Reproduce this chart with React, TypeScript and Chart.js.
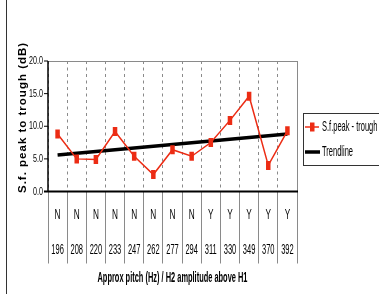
import React, { useEffect, useRef } from "react";
import { Chart, registerables } from "chart.js";

Chart.register(...registerables);

// ---- data ----
const pitchHz = ["196", "208", "220", "233", "247", "262", "277", "294", "311", "330", "349", "370", "392"];
const h2AboveH1 = ["N", "N", "N", "N", "N", "N", "N", "N", "Y", "Y", "Y", "Y", "Y"];
const peakTrough = [8.8, 5.0, 4.9, 9.2, 5.4, 2.6, 6.4, 5.4, 7.5, 10.9, 14.6, 4.0, 9.3];
const trendline = [5.6, null, null, null, null, null, null, null, null, null, null, null, 8.8];
const seriesNames = ["S.f.peak - trough", "Trendline"];
const yTitle = "S.f. peak to trough (dB)";
const xTitle = "Approx pitch (Hz) / H2 amplitude above H1";

const RED = "#ec2c14";
const FONT = '"Liberation Sans", Arial, sans-serif';

function txt(ctx: CanvasRenderingContext2D, s: string, x: number, y: number, font: string, sx: number, align: CanvasTextAlign) {
  ctx.save();
  ctx.font = font;
  ctx.translate(x, y);
  ctx.scale(sx, 1);
  ctx.textAlign = align;
  ctx.textBaseline = "middle";
  ctx.fillStyle = "#000";
  ctx.fillText(s, 0, 0);
  ctx.restore();
}

const decor = {
  id: "decor",
  afterDraw(chart: any) {
    const ctx: CanvasRenderingContext2D = chart.ctx;
    const { left, right, top, bottom } = chart.chartArea;
    const xs = chart.scales.x;
    const ys = chart.scales.y;
    ctx.save();
    // page left line
    ctx.strokeStyle = "#333";
    ctx.lineWidth = 1;
    ctx.beginPath();
    ctx.moveTo(6.5, 0);
    ctx.lineTo(6.5, 294);
    ctx.stroke();
    // top & right border of plot
    ctx.strokeStyle = "#8a8a8a";
    ctx.beginPath();
    ctx.moveTo(left, top + 0.5);
    ctx.lineTo(right + 0.5, top + 0.5);
    ctx.lineTo(right + 0.5, bottom);
    ctx.stroke();
    // y axis
    ctx.strokeStyle = "#000";
    ctx.lineWidth = 1.5;
    ctx.beginPath();
    ctx.moveTo(left, top);
    ctx.lineTo(left, bottom);
    ctx.stroke();
    // y ticks and labels
    ys.ticks.forEach((t: any) => {
      const py = ys.getPixelForValue(t.value);
      ctx.strokeStyle = "#000";
      ctx.lineWidth = 1;
      ctx.beginPath();
      ctx.moveTo(left - 4, py);
      ctx.lineTo(left, py);
      ctx.stroke();
      txt(ctx, Number(t.value).toFixed(1), left - 5, py, `11px ${FONT}`, 0.65, "right");
    });
    // x axis
    ctx.strokeStyle = "#000";
    ctx.lineWidth = 2;
    ctx.beginPath();
    ctx.moveTo(left - 4, bottom);
    ctx.lineTo(right + 1, bottom);
    ctx.stroke();
    // x category labels
    pitchHz.forEach((p, i) => {
      const px = xs.getPixelForValue(i);
      txt(ctx, h2AboveH1[i], px, 215, `15px ${FONT}`, 0.55, "center");
      txt(ctx, p, px, 250, `15px ${FONT}`, 0.5, "center");
    });
    // x title
    ctx.font = `bold 14px ${FONT}`;
    const w = ctx.measureText(xTitle).width;
    txt(ctx, xTitle, (left + right) / 2, 278, `bold 14px ${FONT}`, 150 / w, "center");
    // y title
    ctx.save();
    ctx.translate(22.5, 193);
    ctx.rotate(-Math.PI / 2);
    ctx.font = `bold 11.5px ${FONT}`;
    (ctx as any).letterSpacing = "1px";
    ctx.textAlign = "left";
    ctx.textBaseline = "middle";
    ctx.fillStyle = "#000";
    ctx.fillText(yTitle, 0, 0);
    ctx.restore();
    // legend
    ctx.strokeStyle = "#333";
    ctx.lineWidth = 1;
    ctx.strokeRect(303.5, 113.5, 100, 52);
    ctx.strokeStyle = RED;
    ctx.lineWidth = 1.5;
    ctx.beginPath();
    ctx.moveTo(305, 127);
    ctx.lineTo(319, 127);
    ctx.stroke();
    ctx.fillStyle = RED;
    ctx.fillRect(310, 122.5, 4.5, 9);
    ctx.strokeStyle = "#000";
    ctx.lineWidth = 3.5;
    ctx.beginPath();
    ctx.moveTo(305, 152);
    ctx.lineTo(320, 152);
    ctx.stroke();
    txt(ctx, seriesNames[0], 322, 127, `15px ${FONT}`, 0.5, "left");
    txt(ctx, seriesNames[1], 322, 152, `15px ${FONT}`, 0.5, "left");
    ctx.restore();
  },
};

export default function App() {
  const ref = useRef<HTMLCanvasElement | null>(null);
  useEffect(() => {
    if (!ref.current) return;
    const chart = new Chart(ref.current, {
      type: "line",
      data: {
        labels: pitchHz,
        datasets: [
          {
            label: seriesNames[0],
            data: peakTrough,
            borderColor: RED,
            backgroundColor: RED,
            borderWidth: 1.5,
            pointStyle: "line",
            pointRotation: 90,
            pointRadius: 4.5,
            pointBorderWidth: 4.5,
            pointBorderColor: RED,
            tension: 0,
          },
          {
            label: seriesNames[1],
            data: trendline,
            borderColor: "#000",
            borderWidth: 3.5,
            pointRadius: 0,
            spanGaps: true,
            tension: 0,
          },
        ],
      },
      options: {
        responsive: false,
        animation: false,
        events: [],
        layout: { padding: { top: 61, right: 82, left: 0, bottom: 0 } },
        plugins: { legend: { display: false }, tooltip: { enabled: false }, title: { display: false } },
        scales: {
          x: {
            type: "category",
            offset: true,
            ticks: { display: false },
            grid: {
              offset: true,
              color: "#8a8a8a",
              lineWidth: 1,
              drawTicks: true,
              tickLength: 72,
              tickColor: "#8a8a8a",
              tickBorderDash: [1, 0],
            },
            border: { display: false, dash: [3, 3.5] },
            afterFit: (s: any) => {
              s.height = 103.5;
            },
          },
          y: {
            min: 0,
            max: 20,
            ticks: { display: false, stepSize: 5 },
            grid: { display: false },
            border: { display: false },
            afterFit: (s: any) => {
              s.width = 48;
            },
          },
        },
      },
      plugins: [decor],
    } as any);
    return () => chart.destroy();
  }, []);
  return (
    <div style={{ position: "fixed", left: 0, top: 0, width: 379, height: 295, background: "#fff" }}>
      <canvas ref={ref} width={379} height={295} style={{ display: "block" }} />
    </div>
  );
}
